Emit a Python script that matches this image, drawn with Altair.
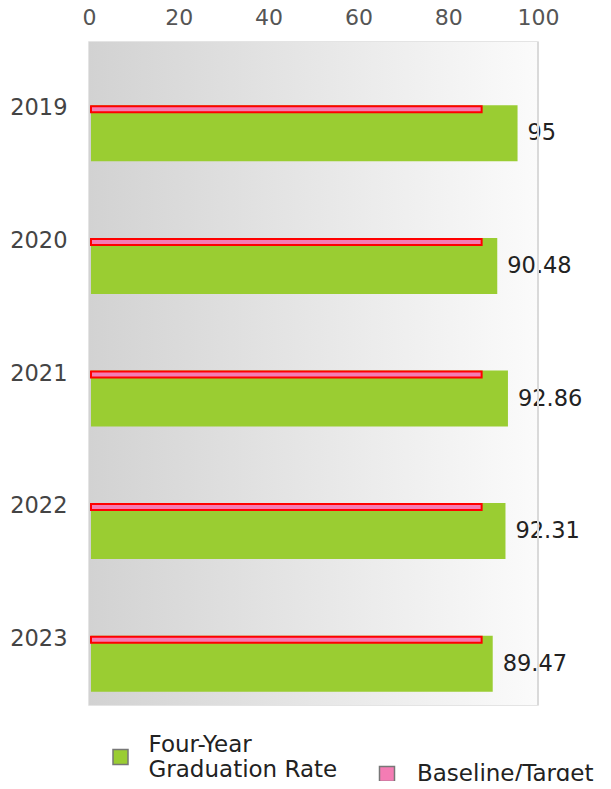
import altair as alt
import pandas as pd

years = ["2019", "2020", "2021", "2022", "2023"]
rates = [95, 90.48, 92.86, 92.31, 89.47]
targets = [87, 87, 87, 87, 87]
x_ticks = [0, 20, 40, 60, 80, 100]
series_rate = "Four-Year Graduation Rate"
series_target = "Baseline/Target"

df = pd.DataFrame({
    "year": years,
    "rate": rates,
    "target": targets,
    "s_rate": [series_rate] * len(years),
    "s_target": [series_target] * len(years),
})

FONT = "DejaVu Sans"
W, H = 449, 663

x_scale = alt.Scale(domain=[0, 100], nice=False)
y_enc = alt.Y("year:N", sort=years,
              scale=alt.Scale(paddingInner=0, paddingOuter=0),
              axis=alt.Axis(title=None, ticks=False, domain=False, labelPadding=22,
                            labelFontSize=22.5, labelColor="#444", labelFont=FONT))
x_axis = alt.Axis(title=None, orient="top", values=x_ticks, ticks=False, domain=False,
                  grid=False, labelPadding=12.4, labelFontSize=22, labelColor="#555",
                  labelFont=FONT, labelFlush=False)

bg = alt.Chart(pd.DataFrame({"a": [0]})).mark_rect(
    fill=alt.Gradient(gradient="linear",
                      stops=[alt.GradientStop(color="#d2d2d2", offset=0),
                             alt.GradientStop(color="#fbfbfb", offset=1)],
                      x1=0, x2=1, y1=0, y2=0)
).encode(x=alt.X("a:Q", scale=x_scale, axis=x_axis), x2=alt.datum(100),
         y=alt.value(0), y2=alt.value(H))

green = alt.Chart(df).mark_bar(height=56, yOffset=25, xOffset=2).encode(
    x=alt.X("rate:Q", scale=x_scale, axis=x_axis),
    y=y_enc,
    color=alt.Color("s_rate:N",
                    scale=alt.Scale(domain=[series_rate], range=["#9acd32"]),
                    legend=alt.Legend(title=None, orient="none", legendX=20, legendY=703.5,
                                      symbolType="square", symbolSize=225,
                                      symbolStrokeColor="#777", symbolStrokeWidth=1.5,
                                      labelFont=FONT, labelFontSize=23, labelColor="#222",
                                      labelLimit=400, labelOffset=16.5, labelBaseline="bottom",
                                      labelExpr="datum.label == 'Four-Year Graduation Rate' ? ['Four-Year', 'Graduation Rate'] : datum.label")),
)

pink = alt.Chart(df).mark_bar(height=6, yOffset=1, xOffset=2, stroke="#ff0000", strokeWidth=2).encode(
    x=alt.X("target:Q", scale=x_scale, axis=x_axis),
    y=y_enc,
    fill=alt.Fill("s_target:N",
                  scale=alt.Scale(domain=[series_target], range=["#f47cb4"]),
                  legend=alt.Legend(title=None, orient="none", legendX=286.5, legendY=720.5,
                                    symbolType="square", symbolSize=225,
                                    symbolStrokeColor="#777", symbolStrokeWidth=1.5,
                                    labelFont=FONT, labelFontSize=23, labelColor="#222",
                                    labelLimit=400, labelOffset=18.5)),
)

labels = alt.Chart(df).mark_text(align="left", baseline="middle", dx=12, yOffset=25,
                                 fontSize=22.5, font=FONT, color="#222").encode(
    x=alt.X("rate:Q", scale=x_scale, axis=x_axis),
    y=y_enc,
    text=alt.Text("rate:Q"),
)

border = alt.Chart(pd.DataFrame({"a": [100]})).mark_rule(color="#dadada", strokeWidth=2).encode(
    x=alt.X("a:Q", scale=x_scale, axis=x_axis)
)

chart = alt.layer(bg, green, pink, labels, border).properties(
    width=W, height=H,
    autosize=alt.AutoSizeParams(type="none"),
    padding={"left": 81, "top": 34, "right": 65, "bottom": 76},
).configure_view(stroke="#dcdcdc", strokeWidth=1.5)

chart.save("out.html", embed_options={"renderer": "svg", "actions": False})
